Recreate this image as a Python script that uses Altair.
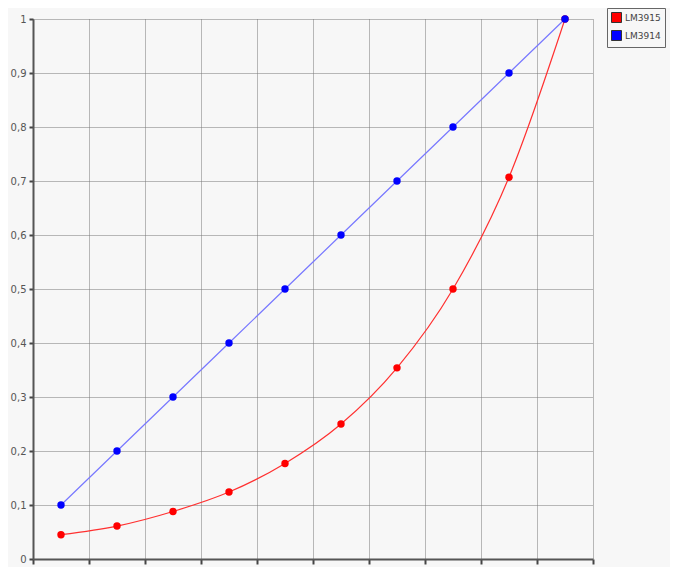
import altair as alt
import pandas as pd

steps = [1, 2, 3, 4, 5, 6, 7, 8, 9, 10]
lm3915 = [0.045, 0.061, 0.088, 0.124, 0.177, 0.25, 0.354, 0.5, 0.707, 1.0]
lm3914 = [0.1, 0.2, 0.3, 0.4, 0.5, 0.6, 0.7, 0.8, 0.9, 1.0]
series = ["LM3915", "LM3914"]
colors = ["#ff0000", "#0000ff"]
line_colors = ["#ff3030", "#7878ff"]

rows = []
for s, vals in zip(series, [lm3915, lm3914]):
    for st, v in zip(steps, vals):
        rows.append({"step": st - 0.5, "value": v, "series": s})
df = pd.DataFrame(rows)

x = alt.X("step:Q", scale=alt.Scale(domain=[0, 10], nice=False),
          axis=alt.Axis(values=list(range(0, 11)), labels=False, title=None,
                        tickSize=5, tickColor="#444", tickWidth=2,
                        domainColor="#555", domainWidth=2,
                        grid=True, gridColor="#777", gridDash=[1, 1], gridWidth=1))
y = alt.Y("value:Q", scale=alt.Scale(domain=[0, 1], nice=False),
          axis=alt.Axis(values=[i / 10 for i in range(11)],
                        labelExpr="replace(format(datum.value, '.1~f'), '.', ',')",
                        title=None, tickSize=4, tickColor="#444", tickWidth=2,
                        domainColor="#555", domainWidth=2, labelColor="#555",
                        labelFont="DejaVu Sans", labelFontSize=10, labelPadding=3,
                        grid=True, gridColor="#777", gridDash=[1, 1], gridWidth=1))

lines = alt.Chart(df).mark_line(interpolate="monotone", strokeWidth=1.2).encode(
    x=x, y=y,
    color=alt.Color("series:N", scale=alt.Scale(domain=series, range=line_colors), legend=None),
)

points = alt.Chart(df).mark_point(filled=True, size=55, opacity=1, shape="circle").encode(
    x=x, y=y,
    color=alt.Color("series:N", scale=alt.Scale(domain=series, range=colors),
                    legend=alt.Legend(title=None, orient="none", legendX=574, legendY=-11,
                                      symbolType="square", symbolSize=100,
                                      symbolStrokeColor="#333", symbolStrokeWidth=1,
                                      labelFont="DejaVu Sans", labelFontSize=9,
                                      labelColor="#444", labelOffset=3,
                                      strokeColor="#666", padding=4, rowPadding=3,
                                      fillColor="#f7f7f7")),
)

chart = alt.layer(lines, points).resolve_scale(color="independent").properties(
    width=560, height=540,
    autosize=alt.AutoSizeParams(type="none"),
    padding={"left": 25, "top": 11, "right": 77, "bottom": 8},
    background="#f7f7f7",
).configure_view(stroke=None)

chart.save("out.html", embed_options={"renderer": "svg", "actions": False})
